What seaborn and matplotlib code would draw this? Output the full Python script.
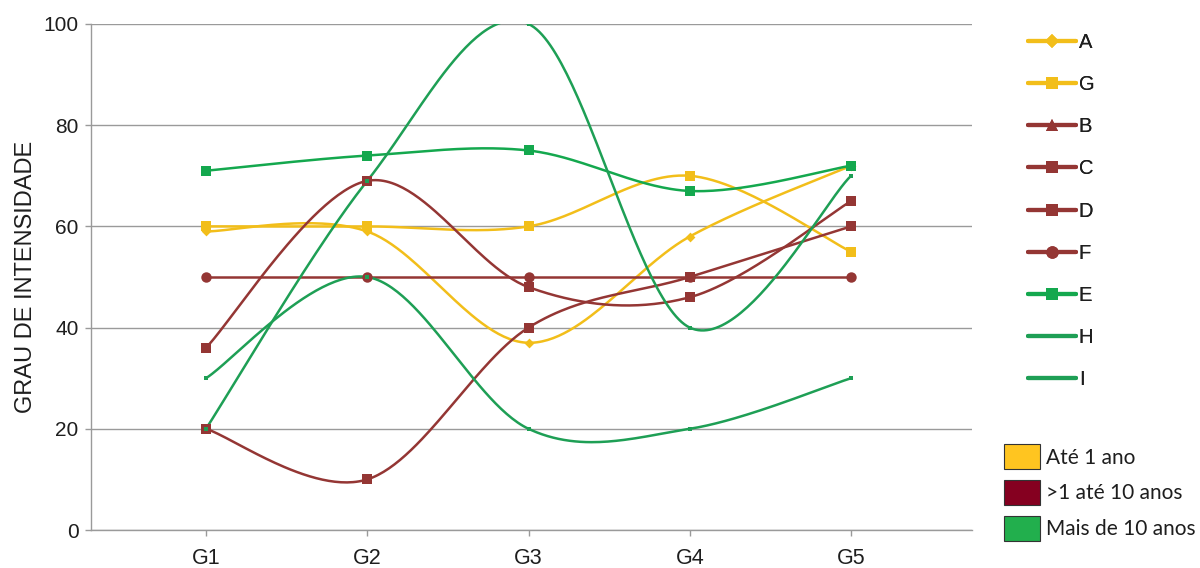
import numpy as np
import pandas as pd
import matplotlib
matplotlib.use("Agg")
import matplotlib.pyplot as plt
from matplotlib.lines import Line2D
from matplotlib.patches import Patch
import seaborn as sns

# ---- data -------------------------------------------------------------
groups = ["G1", "G2", "G3", "G4", "G5"]
serie_a = [59, 59, 37, 58, 72]
serie_g = [60, 60, 60, 70, 55]
serie_b = [np.nan, np.nan, np.nan, np.nan, np.nan]
serie_c = [36, 69, 48, 46, 65]
serie_d = [20, 10, 40, 50, 60]
serie_f = [50, 50, 50, 50, 50]
serie_e = [71, 74, 75, 67, 72]
serie_h = [20, 69, 100, 40, 70]
serie_i = [30, 50, 20, 20, 30]
faixas = ["Até 1 ano", ">1 até 10 anos", "Mais de 10 anos"]
y_ticks = [0, 20, 40, 60, 80, 100]

YEL = "#F2BE1A"
BRN = "#943634"
GRN_E = "#14A84E"
GRN = "#1E9F55"
TXT = "#1e1e1e"

# name, values, colour, marker, marker size (pt), legend marker size
series = [
    ("A", serie_a, YEL, "D", 5, 7),
    ("G", serie_g, YEL, "s", 7.5, 8.5),
    ("B", serie_b, BRN, "^", 7.5, 8.5),
    ("C", serie_c, BRN, "s", 7.5, 8.5),
    ("D", serie_d, BRN, "s", 7.5, 8.5),
    ("F", serie_f, BRN, "o", 7.5, 9),
    ("E", serie_e, GRN_E, "s", 7.5, 8.5),
    ("H", serie_h, GRN, "s", 2.5, 0),
    ("I", serie_i, GRN, "s", 2.5, 0),
]


def smooth(values, n=60):
    """Bezier smoothing through every point (Catmull-Rom style)."""
    y = np.asarray(values, dtype=float)
    x = np.arange(len(y), dtype=float)
    xs, ys = [], []
    t = np.linspace(0, 1, n)
    for i in range(len(y) - 1):
        j0 = max(i - 1, 0)
        j3 = min(i + 2, len(y) - 1)
        px = [x[i], x[i] + (x[i + 1] - x[j0]) / 6, x[i + 1] - (x[j3] - x[i]) / 6, x[i + 1]]
        py = [y[i], y[i] + (y[i + 1] - y[j0]) / 6, y[i + 1] - (y[j3] - y[i]) / 6, y[i + 1]]
        b = [(1 - t) ** 3, 3 * (1 - t) ** 2 * t, 3 * (1 - t) * t ** 2, t ** 3]
        xs.append(sum(bk * pk for bk, pk in zip(b, px)))
        ys.append(sum(bk * pk for bk, pk in zip(b, py)))
    return np.concatenate(xs), np.concatenate(ys)


sns.set_theme(style="white")
plt.rcParams["font.family"] = ["Liberation Sans", "DejaVu Sans"]

fig = plt.figure(figsize=(12, 5.68), dpi=100)
ax = fig.add_axes([91 / 1200, 1 - 530 / 568, (972 - 91) / 1200, (530 - 24) / 568])

for name, vals, col, mk, ms, _ in series:
    if np.all(np.isnan(vals)):
        continue
    sx, sy = smooth(vals)
    curve = pd.DataFrame({"x": sx, "y": sy})
    sns.lineplot(data=curve, x="x", y="y", ax=ax, color=col, linewidth=1.8,
                 sort=False, estimator=None, zorder=3)
    pts = pd.DataFrame({"x": np.arange(len(vals)), "y": vals})
    sns.scatterplot(data=pts, x="x", y="y", ax=ax, color=col, marker=mk,
                    s=ms ** 2, linewidth=0, zorder=4)

ax.set_xlim(-0.713, 4.75)
ax.set_ylim(0, 100)
ax.set_xticks(range(len(groups)))
ax.set_xticklabels(groups)
ax.set_yticks(y_ticks)
ax.set_xlabel("")
ax.set_ylabel("GRAU DE INTENSIDADE", fontsize=17, color=TXT)
ax.yaxis.set_label_coords(-0.061, 0.50)

ax.grid(axis="y", color="#9a9a9a", linewidth=1.0)
ax.grid(axis="x", visible=False)
ax.set_axisbelow(True)
for side in ["top", "right"]:
    ax.spines[side].set_visible(False)
for side in ["left", "bottom"]:
    ax.spines[side].set_color("#9a9a9a")
    ax.spines[side].set_linewidth(1.0)
ax.tick_params(axis="y", which="both", left=True, length=4, width=1,
               color="#9a9a9a", pad=5, labelsize=15, labelcolor=TXT)
ax.tick_params(axis="x", which="both", bottom=True, length=4, width=1,
               color="#9a9a9a", pad=9, labelsize=15.5, labelcolor=TXT)

# series legend
handles = []
for name, vals, col, mk, ms, lms in series:
    if lms > 0:
        handles.append(Line2D([], [], color=col, linewidth=3, marker=mk,
                              markersize=lms, markeredgewidth=0))
    else:
        handles.append(Line2D([], [], color=col, linewidth=3))
leg1 = fig.legend(handles, [s[0] for s in series], loc="upper left",
                  bbox_to_anchor=(1028 / 1200, 1 - 33 / 568), frameon=False,
                  fontsize=14.5, handlelength=2.4, handletextpad=0.12,
                  labelspacing=1.15, borderpad=0, borderaxespad=0)
for t in leg1.get_texts():
    t.set_color(TXT)

# age-group legend
patch_cols = ["#FFC520", "#850020", "#22AF4D"]
patches = [Patch(facecolor=c, edgecolor="#333333", linewidth=0.8) for c in patch_cols]
leg2 = fig.legend(patches, faixas, loc="upper left",
                  bbox_to_anchor=(1004 / 1200, 1 - 444 / 568), frameon=False,
                  prop={"family": ["Lato", "DejaVu Sans"], "size": 15},
                  handlelength=1.75, handleheight=1.5,
                  handletextpad=0.25, labelspacing=0.5, borderpad=0,
                  borderaxespad=0)
for t in leg2.get_texts():
    t.set_color(TXT)
fig.add_artist(leg1)

fig.savefig("out.png", dpi=100)
